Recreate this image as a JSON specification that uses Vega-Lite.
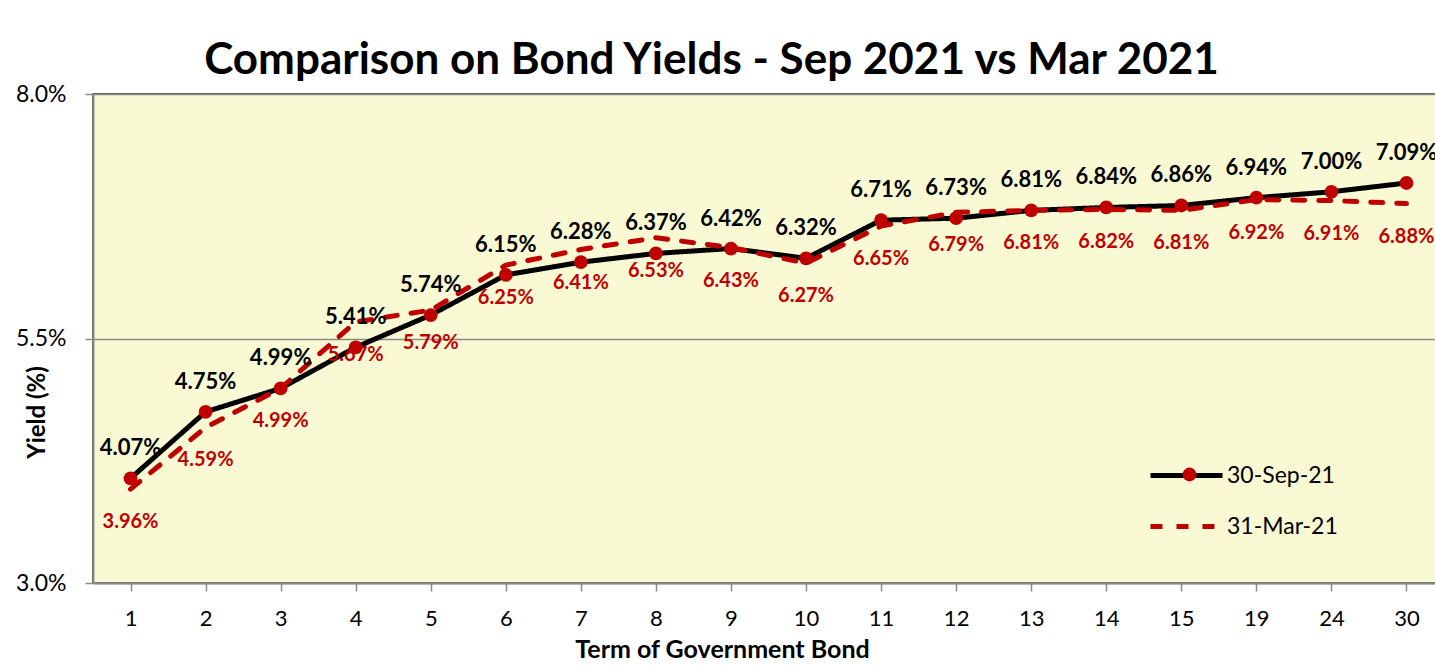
{
  "$schema": "https://vega.github.io/schema/vega-lite/v6.json",
  "autosize": "none",
  "width": 1351,
  "height": 489,
  "padding": {"left": 93, "top": 94, "right": 0, "bottom": 85},
  "background": "white",
  "config": {
    "font": "Lato",
    "view": {"fill": "#F9F9D3", "stroke": "#222222", "strokeWidth": 1.5}
  },
  "title": {
    "text": "Comparison on Bond Yields - Sep 2021 vs Mar 2021",
    "fontSize": 44,
    "fontWeight": "bold",
    "color": "black",
    "anchor": "middle",
    "dx": -57,
    "offset": 0
  },
  "data": {
    "values": [
      {"term": "1", "series": "30-Sep-21", "yield": 4.07},
      {"term": "2", "series": "30-Sep-21", "yield": 4.75},
      {"term": "3", "series": "30-Sep-21", "yield": 4.99},
      {"term": "4", "series": "30-Sep-21", "yield": 5.41},
      {"term": "5", "series": "30-Sep-21", "yield": 5.74},
      {"term": "6", "series": "30-Sep-21", "yield": 6.15},
      {"term": "7", "series": "30-Sep-21", "yield": 6.28},
      {"term": "8", "series": "30-Sep-21", "yield": 6.37},
      {"term": "9", "series": "30-Sep-21", "yield": 6.42},
      {"term": "10", "series": "30-Sep-21", "yield": 6.32},
      {"term": "11", "series": "30-Sep-21", "yield": 6.71},
      {"term": "12", "series": "30-Sep-21", "yield": 6.73},
      {"term": "13", "series": "30-Sep-21", "yield": 6.81},
      {"term": "14", "series": "30-Sep-21", "yield": 6.84},
      {"term": "15", "series": "30-Sep-21", "yield": 6.86},
      {"term": "19", "series": "30-Sep-21", "yield": 6.94},
      {"term": "24", "series": "30-Sep-21", "yield": 7.00},
      {"term": "30", "series": "30-Sep-21", "yield": 7.09},
      {"term": "1", "series": "31-Mar-21", "yield": 3.96},
      {"term": "2", "series": "31-Mar-21", "yield": 4.59},
      {"term": "3", "series": "31-Mar-21", "yield": 4.99},
      {"term": "4", "series": "31-Mar-21", "yield": 5.67},
      {"term": "5", "series": "31-Mar-21", "yield": 5.79},
      {"term": "6", "series": "31-Mar-21", "yield": 6.25},
      {"term": "7", "series": "31-Mar-21", "yield": 6.41},
      {"term": "8", "series": "31-Mar-21", "yield": 6.53},
      {"term": "9", "series": "31-Mar-21", "yield": 6.43},
      {"term": "10", "series": "31-Mar-21", "yield": 6.27},
      {"term": "11", "series": "31-Mar-21", "yield": 6.65},
      {"term": "12", "series": "31-Mar-21", "yield": 6.79},
      {"term": "13", "series": "31-Mar-21", "yield": 6.81},
      {"term": "14", "series": "31-Mar-21", "yield": 6.82},
      {"term": "15", "series": "31-Mar-21", "yield": 6.81},
      {"term": "19", "series": "31-Mar-21", "yield": 6.92},
      {"term": "24", "series": "31-Mar-21", "yield": 6.91},
      {"term": "30", "series": "31-Mar-21", "yield": 6.88}
    ]
  },
  "transform": [
    {"calculate": "format(datum.yield, '.2f') + '%'", "as": "label"}
  ],
  "encoding": {
    "x": {
      "field": "term",
      "type": "ordinal",
      "sort": ["1","2","3","4","5","6","7","8","9","10","11","12","13","14","15","19","24","30"],
      "scale": {"paddingInner": 0, "paddingOuter": 0},
      "axis": {
        "title": "Term of Government Bond",
        "titleFontSize": 25,
        "titleFontWeight": "bold",
        "titleColor": "black",
        "titleX": 629,
        "titleY": 54,
        "labelAngle": 0,
        "labelFontSize": 22,
        "labelColor": "black",
        "labelPadding": 17,
        "bandPosition": 0,
        "tickSize": 8,
        "tickColor": "#8A8A8A",
        "tickWidth": 1.5,
        "domainColor": "#8A8A8A",
        "domainWidth": 2,
        "grid": false
      }
    },
    "y": {
      "field": "yield",
      "type": "quantitative",
      "scale": {"domain": [3, 8], "nice": false, "zero": false},
      "axis": {
        "title": "Yield (%)",
        "titleFontSize": 24,
        "titleFontWeight": "bold",
        "titleColor": "black",
        "titleX": -44,
        "titleY": 318,
        "values": [3, 5.5, 8],
        "labelExpr": "format(datum.value, '.1f') + '%'",
        "labelFontSize": 23,
        "labelColor": "black",
        "labelPadding": 19,
        "tickSize": 8,
        "tickColor": "#8A8A8A",
        "tickWidth": 1.5,
        "domainColor": "#8A8A8A",
        "domainWidth": 2,
        "grid": true,
        "gridColor": "#8A8A8A",
        "gridWidth": 1.5
      }
    }
  },
  "layer": [
    {
      "mark": {"type": "line", "strokeWidth": 5, "strokeCap": "round", "strokeJoin": "round"},
      "encoding": {
        "color": {
          "field": "series",
          "type": "nominal",
          "scale": {"domain": ["30-Sep-21", "31-Mar-21"], "range": ["#000000", "#C00000"]},
          "legend": {
            "title": null,
            "orient": "none",
            "legendX": 1055,
            "legendY": 343,
            "symbolType": "stroke",
            "symbolSize": 5184,
            "symbolStrokeWidth": 5,
            "labelFontSize": 23,
            "labelColor": "black",
            "labelOffset": 2,
            "rowPadding": -4
          }
        },
        "strokeDash": {
          "field": "series",
          "type": "nominal",
          "scale": {"domain": ["30-Sep-21", "31-Mar-21"], "range": [[1, 0], [12, 14]]},
          "legend": null
        }
      }
    },
    {
      "transform": [{"filter": "datum.series === '30-Sep-21'"}],
      "mark": {"type": "point", "filled": true, "size": 190, "color": "#C00000", "opacity": 1},
      "encoding": {
        "shape": {
          "field": "series",
          "type": "nominal",
          "scale": {"domain": ["30-Sep-21"], "range": ["circle"]},
          "legend": {
            "title": null,
            "orient": "none",
            "legendX": 1085,
            "legendY": 369,
            "symbolSize": 190,
            "symbolFillColor": "#C00000",
            "symbolStrokeColor": "#C00000",
            "symbolStrokeWidth": 0,
            "symbolOpacity": 1,
            "labelFontSize": 23,
            "labelOpacity": 0,
            "labelOffset": 6,
            "zindex": 2
          }
        }
      }
    },
    {
      "transform": [{"filter": "datum.series === '30-Sep-21'"}],
      "mark": {"type": "text", "dy": -30, "fontSize": 22, "fontWeight": "bold", "color": "black"},
      "encoding": {"text": {"field": "label"}}
    },
    {
      "transform": [{"filter": "datum.series === '31-Mar-21'"}],
      "mark": {"type": "text", "dy": 33, "fontSize": 20, "fontWeight": "bold", "color": "#C00000"},
      "encoding": {"text": {"field": "label"}}
    }
  ]
}
